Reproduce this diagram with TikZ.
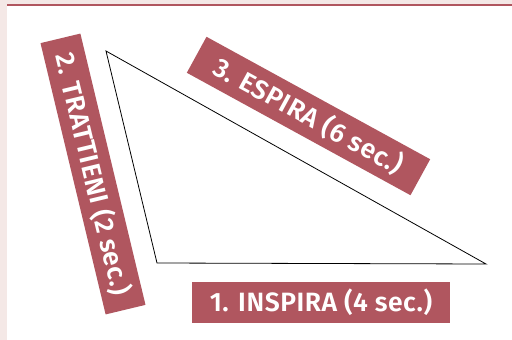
\documentclass[tikz,border=0pt]{standalone}
\usepackage{fontspec}
\setmainfont{Fira Sans}[UprightFont={* SemiBold},LetterSpace=2]
\definecolor{bgpink}{HTML}{F4E8E6}
\definecolor{rosered}{HTML}{B0565F}
\begin{document}
\begin{tikzpicture}[x=1pt,y=-1pt,
  labelbox/.style={fill=rosered,text=white,inner sep=0pt,minimum height=41pt,font=\fontsize{26.5}{26.5}\selectfont}]
\useasboundingbox (0,0) rectangle (512,340);
\fill[bgpink] (0,0) rectangle (512,340);
\fill[white] (7,5) rectangle (512,340);
\fill[rosered] (7,4) rectangle (512,6.2);
\coordinate (A) at (106,51);
\coordinate (B) at (157,263);
\coordinate (C) at (486,264);
\draw[line width=0.8pt,line join=miter] (A) -- (B) -- (C) -- cycle;
\node[labelbox,minimum width=258pt] (l1) at (321,302.5) {1. INSPIRA (4 sec.)};
\node[labelbox,minimum width=279pt,rotate=-76.5] (l2) at (93,174) {2. TRATTIENI (2 sec.)};
\node[labelbox,minimum width=255pt,rotate=-28.7] (l3) at (308.5,116) {3. ESPIRA (6 sec.)};
\end{tikzpicture}
\end{document}
